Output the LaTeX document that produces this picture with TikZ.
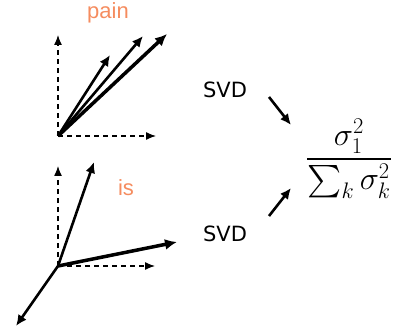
\documentclass[tikz,border=0pt]{standalone}
\usepackage{amsmath}
\usepackage{fontspec}
\setsansfont{Liberation Sans}
\newfontfamily\svdfont{DejaVu Sans}
\usetikzlibrary{arrows.meta}
\definecolor{wordorange}{RGB}{245,140,95}
\tikzset{
  axis/.style={line width=1.3pt, dash pattern=on 5pt off 4pt, -{Latex[length=10pt,width=8pt]}},
  vec/.style={line width=2.6pt, -{Latex[length=11pt,width=10pt]}},
  bigvec/.style={line width=3.5pt, -{Latex[length=12pt,width=11pt]}},
  word/.style={text=wordorange, font=\sffamily\fontsize{22}{26}\selectfont},
  svdlabel/.style={font=\svdfont\fontsize{21}{25}\selectfont}
}
\begin{document}
\begin{tikzpicture}[x=1pt,y=-1pt]
    \useasboundingbox (0,0) rectangle (413,329);
    % top frame: pain
    \coordinate (o1) at (58,136);
    \coordinate (y1) at (58,35);
    \coordinate (x1) at (156,136);
    \coordinate (p1) at (110,55);
    \coordinate (p2) at (143,36);
    \coordinate (p3) at (167,34);
    \draw[axis] (o1) -- (y1);
    \draw[axis] (o1) -- (x1);
    \draw[vec] (o1) -- (p1);
    \draw[vec] (o1) -- (p2);
    \draw[bigvec] (o1) -- (p3);
    \node[word] (pain) at (108,13) {pain};
    % bottom frame: is
    \coordinate (o2) at (58,266);
    \coordinate (y2) at (58,166);
    \coordinate (x2) at (155,266);
    \coordinate (q1) at (94,162);
    \coordinate (q2) at (177,242);
    \coordinate (q3) at (16,326);
    \draw[axis] (o2) -- (y2);
    \draw[axis] (o2) -- (x2);
    \draw[vec] (o2) -- (q1);
    \draw[bigvec] (o2) -- (q2);
    \draw[vec] (o2) -- (q3);
    \node[word] (is) at (126,188) {is};
    % svd into ratio
    \node[svdlabel] (svdtop) at (225,90) {SVD};
    \node[svdlabel] (svdbot) at (225,234) {SVD};
    \node[scale=1.3] (ratio) at (349,159) {\fontsize{24}{28}\selectfont$\displaystyle\frac{\sigma_1^2}{\sum_k\sigma_k^2}$};
    \coordinate (s1) at (269,97);
    \coordinate (t1) at (291,125);
    \coordinate (s2) at (269,216);
    \coordinate (t2) at (291,188);
    \draw[vec] (s1) -- (t1);
    \draw[vec] (s2) -- (t2);
\end{tikzpicture}
\end{document}
